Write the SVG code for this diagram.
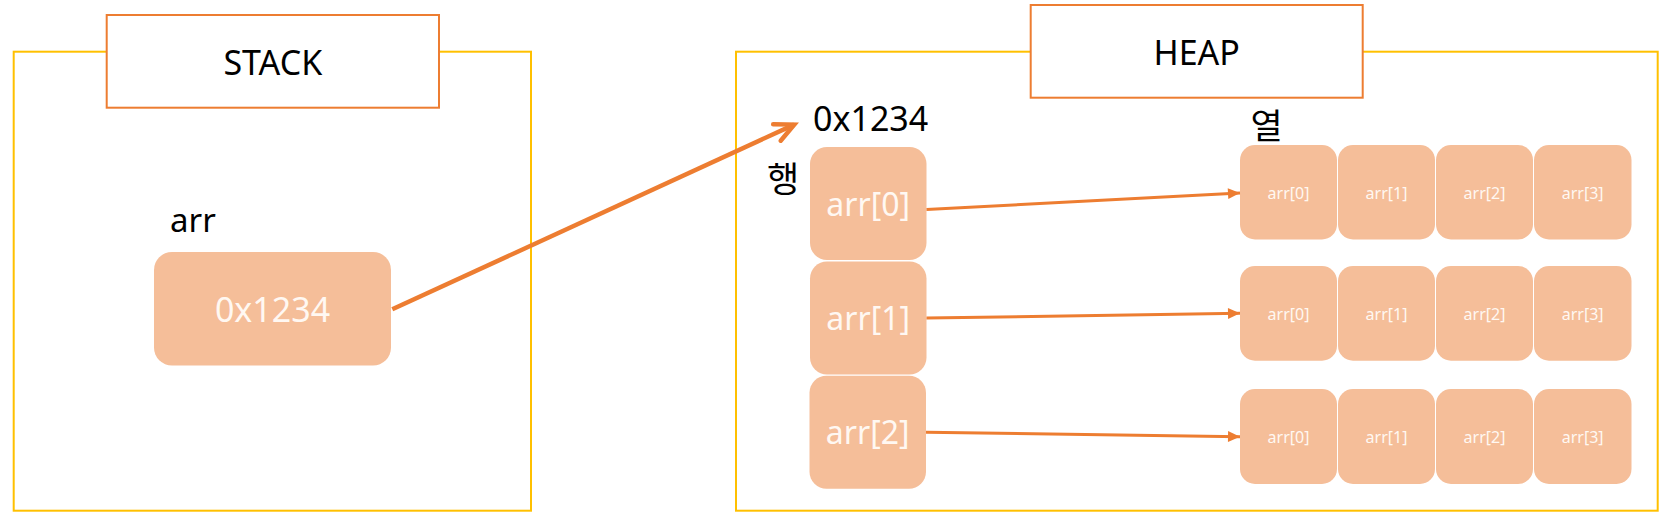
<svg xmlns="http://www.w3.org/2000/svg" width="1665" height="523" viewBox="0 0 1665 523">
  <style>
    .area { fill: none; stroke: #FFC000; stroke-width: 2; }
    .title { fill: #FFFFFF; stroke: #ED7D31; stroke-width: 2; }
    .t { font-family: "Noto Sans", "Noto Sans CJK KR", sans-serif; fill: #000000; }
    .big { font-size: 34px; }
    .ko { font-family: "Noto Sans CJK KR", "Noto Sans", sans-serif; font-size: 35px; fill: #000000; }
    .cell { fill: #F5BE99; }
    .wt { font-family: "Noto Sans", sans-serif; fill: #FFF8F2; text-anchor: middle; }
    .conn { stroke: #ED7D31; fill: none; }
  </style>
  <defs>
    <marker id="open" markerUnits="userSpaceOnUse" orient="auto" refX="0" refY="0" markerWidth="1" markerHeight="1" overflow="visible">
      <path d="M-19,-9 L0,0 L-19,9" fill="none" stroke="#ED7D31" stroke-width="4.5" stroke-linejoin="miter" stroke-linecap="round"/>
    </marker>
    <marker id="tri" markerUnits="userSpaceOnUse" orient="auto" refX="12" refY="5.5" markerWidth="12" markerHeight="11" overflow="visible">
      <path d="M0,0 L12,5.5 L0,11 Z" fill="#ED7D31"/>
    </marker>
  </defs>

  <g id="stack">
    <rect class="area" x="13.7" y="51.7" width="517.3" height="459"/>
    <rect class="title" x="106.7" y="15" width="332.3" height="92.7"/>
    <text class="t big" x="272.8" y="75" text-anchor="middle">STACK</text>
  </g>

  <g id="heap">
    <rect class="area" x="736" y="51.7" width="921.7" height="459"/>
    <rect class="title" x="1030.7" y="5" width="332" height="92.7"/>
    <text class="t big" x="1196.7" y="65" text-anchor="middle">HEAP</text>
  </g>

  <g id="arr-var">
    <text class="t" font-size="33" x="170" y="231.5">arr</text>
    <rect class="cell" x="154" y="252" width="237" height="113.5" rx="18"/>
    <text class="wt" font-size="34" x="272.5" y="321.5">0x1234</text>
  </g>

  <g id="heap-addr">
    <text class="t big" x="813" y="131">0x1234</text>
  </g>
  <g id="label-row">
    <text class="ko" x="767" y="192">행</text>
  </g>
  <g id="label-col">
    <text class="ko" x="1250.5" y="139">열</text>
  </g>

  <g id="rows">
    <g id="row0">
      <rect class="cell" x="810" y="147" width="116.5" height="113" rx="17"/>
      <text class="wt" font-size="32" x="868.2" y="215.5">arr[0]</text>
    </g>
    <g id="row1">
      <rect class="cell" x="810" y="261.5" width="116.5" height="113" rx="17"/>
      <text class="wt" font-size="32" x="868.2" y="330">arr[1]</text>
    </g>
    <g id="row2">
      <rect class="cell" x="809.5" y="375.7" width="116.5" height="113" rx="17"/>
      <text class="wt" font-size="32" x="867.7" y="444">arr[2]</text>
    </g>
  </g>

  <g id="cols0">
    <rect class="cell" x="1240" y="145" width="97" height="94.5" rx="15"/>
    <rect class="cell" x="1338" y="145" width="97" height="94.5" rx="15"/>
    <rect class="cell" x="1436" y="145" width="97" height="94.5" rx="15"/>
    <rect class="cell" x="1534" y="145" width="97.5" height="94.5" rx="15"/>
    <text class="wt" font-size="16" x="1288.5" y="198.5">arr[0]</text>
    <text class="wt" font-size="16" x="1386.5" y="198.5">arr[1]</text>
    <text class="wt" font-size="16" x="1484.5" y="198.5">arr[2]</text>
    <text class="wt" font-size="16" x="1582.7" y="198.5">arr[3]</text>
  </g>
  <g id="cols1">
    <rect class="cell" x="1240" y="266" width="97" height="94.7" rx="15"/>
    <rect class="cell" x="1338" y="266" width="97" height="94.7" rx="15"/>
    <rect class="cell" x="1436" y="266" width="97" height="94.7" rx="15"/>
    <rect class="cell" x="1534" y="266" width="97.5" height="94.7" rx="15"/>
    <text class="wt" font-size="16" x="1288.5" y="319.5">arr[0]</text>
    <text class="wt" font-size="16" x="1386.5" y="319.5">arr[1]</text>
    <text class="wt" font-size="16" x="1484.5" y="319.5">arr[2]</text>
    <text class="wt" font-size="16" x="1582.7" y="319.5">arr[3]</text>
  </g>
  <g id="cols2">
    <rect class="cell" x="1240" y="389" width="97" height="95" rx="15"/>
    <rect class="cell" x="1338" y="389" width="97" height="95" rx="15"/>
    <rect class="cell" x="1436" y="389" width="97" height="95" rx="15"/>
    <rect class="cell" x="1534" y="389" width="97.5" height="95" rx="15"/>
    <text class="wt" font-size="16" x="1288.5" y="442.5">arr[0]</text>
    <text class="wt" font-size="16" x="1386.5" y="442.5">arr[1]</text>
    <text class="wt" font-size="16" x="1484.5" y="442.5">arr[2]</text>
    <text class="wt" font-size="16" x="1582.7" y="442.5">arr[3]</text>
  </g>

  <g id="connectors">
    <line class="conn" x1="392.3" y1="309.3" x2="794.2" y2="124.6" stroke-width="4.5" marker-end="url(#open)"/>
    <line class="conn" x1="926.5" y1="209.5" x2="1240" y2="193" stroke-width="3" marker-end="url(#tri)"/>
    <line class="conn" x1="926.5" y1="318" x2="1240" y2="313.3" stroke-width="3" marker-end="url(#tri)"/>
    <line class="conn" x1="926" y1="432.3" x2="1240" y2="436.7" stroke-width="3" marker-end="url(#tri)"/>
  </g>
</svg>
